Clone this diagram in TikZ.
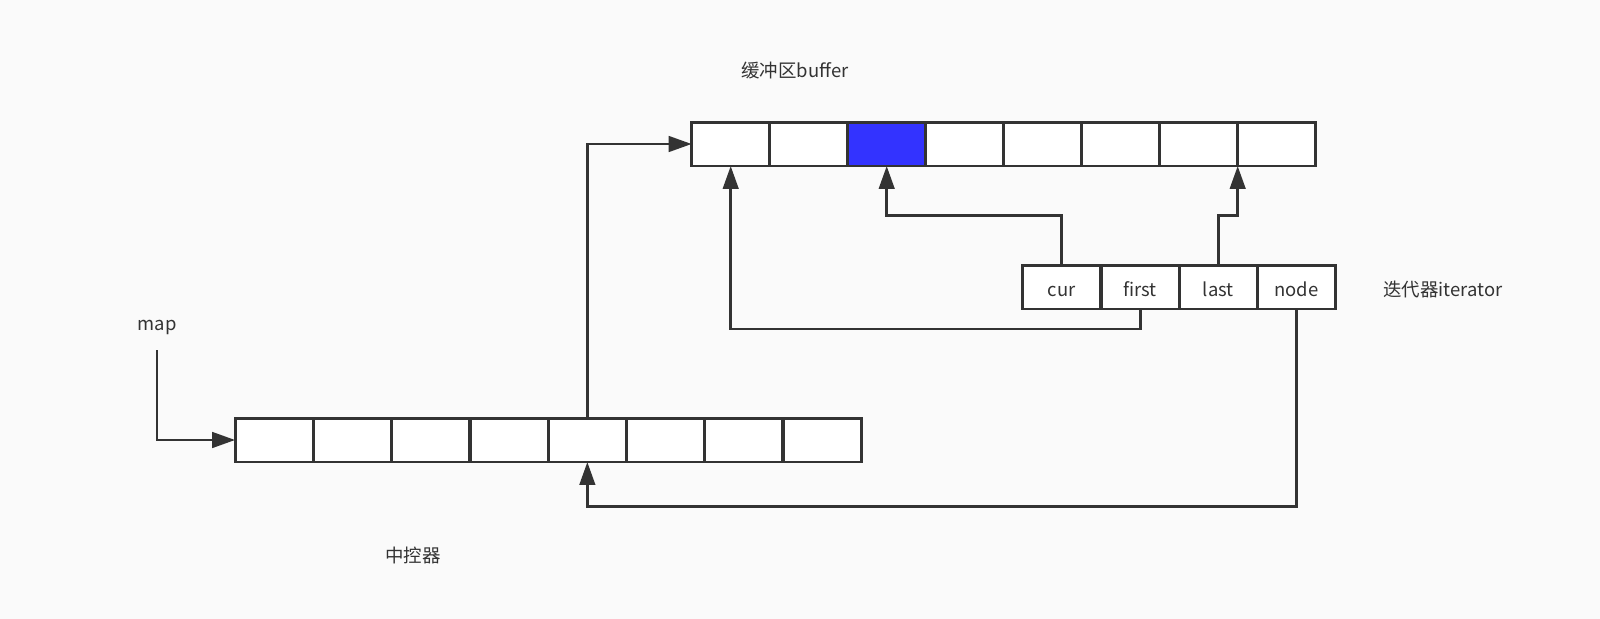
\documentclass[tikz,border=0pt]{standalone}
\usepackage{fontspec}
\setmainfont{Noto Sans CJK SC}
\usepackage{tikz}
\usetikzlibrary{arrows.meta,positioning}
\definecolor{linegray}{HTML}{333333}
\definecolor{bgcolor}{HTML}{FAFAFA}
\definecolor{cellblue}{HTML}{3333FF}

\begin{document}
\begin{tikzpicture}[
  x=0.02cm, y=-0.02cm,
  cell/.style={draw=linegray, line width=1.7pt, fill=white, minimum width=1.56cm,
    minimum height=0.88cm, inner sep=0pt, outer sep=0pt, text=linegray,
    text height=2.2ex, text depth=0.2ex,
    font=\fontsize{10.5pt}{12pt}\selectfont},
  arrow/.style={-{Triangle[length=0.46cm, width=0.31cm]}, draw=linegray,
    line width=1.7pt},
  label/.style={font=\fontsize{10.5pt}{12pt}\selectfont, text=linegray,
    text height=1.6ex, text depth=0.2ex}
]
\fill[bgcolor] (0,0) rectangle (1600,619);
\useasboundingbox (0,0) rectangle (1600,619);

% Buffer
\foreach \i in {1,...,8}
  \node[cell] (buf\i) at ({691.7+78*(\i-0.5)},144) {};
\node[cell, fill=cellblue] at (buf3) {};
\node[label] (buflabel) at (795,71) {缓冲区buffer};

% Iterator
\foreach \name [count=\i] in {cur,first,last,node}
  \node[cell] (it\name) at ({1022.7+78.25*(\i-0.5)},287) {\name};
\node[label] (itlabel) at (1443,290) {迭代器iterator};

% Map
\foreach \i in {1,...,8}
  \node[cell] (map\i) at ({235+78.3*(\i-0.5)},440) {};
\node[label] (maplabel) at (157,324) {map};
\node[label] (ctrllabel) at (413,556) {中控器};

% Connectors
\coordinate (mapin) at (157,350);
\draw[arrow] (mapin) |- (map1.west);
\draw[arrow] (map5.north) |- (buf1.west);
\draw[arrow] (itnode.south) -- ++(0,197.5) -| (map5.south);
\draw[arrow] (itfirst.south) -- ++(0,20) -| (buf1.south);
\draw[arrow] (itcur.north) -- ++(0,-49.5) -| (buf3.south);
\draw[arrow] (itlast.north) -- ++(0,-49.5) -| (buf7.south east);

\end{tikzpicture}
\end{document}
